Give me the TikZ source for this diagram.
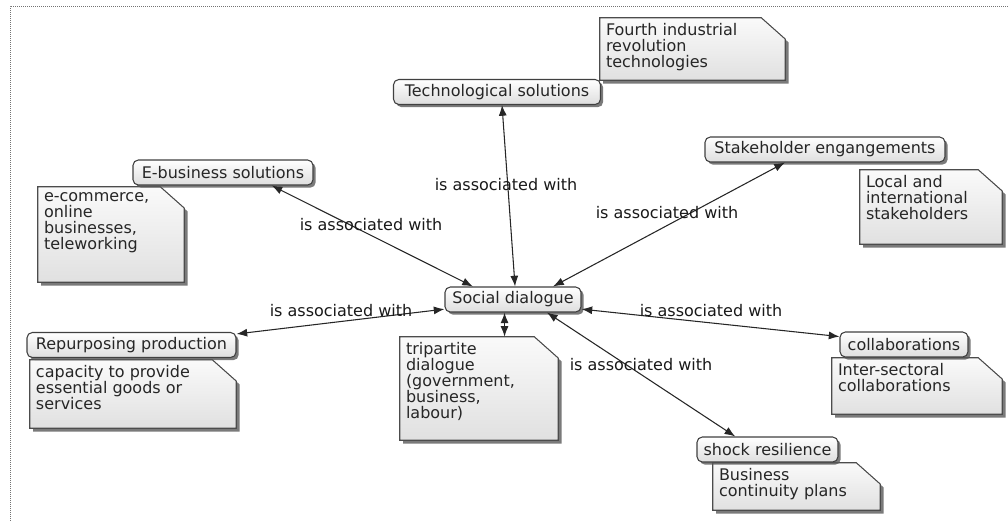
\documentclass[tikz,border=0pt]{standalone}
\usepackage{fontspec}
\setmainfont{DejaVu Sans}
\usetikzlibrary{arrows.meta}
\usetikzlibrary{shadows}
\usetikzlibrary{backgrounds}

% note text: width, height, lines
\newcommand{\notebox}[3]{\parbox[c][#2][t]{#1}{\raggedright #3}}

\begin{document}
\begin{tikzpicture}[x=0.75pt,y=-0.75pt,
  every node/.style={font=\fontsize{12}{12}\selectfont},
  concept/.style={draw=black!75,line width=0.8pt,rounded corners=4pt,
    top color=white,bottom color=black!13,text=black!85,
    inner xsep=2pt,inner ysep=1pt,minimum height=18.75pt,
    drop shadow={shadow xshift=2pt,shadow yshift=-2pt,fill=black!65,opacity=0.8}},
  note/.style={rectangle,text=black!85,inner xsep=4.5pt,inner ysep=4pt},
  notebody/.style={draw=black!70,line width=0.8pt,top color=black!2,bottom color=black!12,
    drop shadow={shadow xshift=2.5pt,shadow yshift=-2.5pt,fill=black!65,opacity=0.8}},
  link/.style={{Latex[length=8pt,width=6pt]}-{Latex[length=8pt,width=6pt]},
    draw=black!85,line width=0.8pt},
  linklabel/.style={text=black!90,inner sep=1pt}]
  \useasboundingbox (0,0) rectangle (1008,521);
  \draw[black!55,line width=0.75pt,dash pattern=on 0.75pt off 0.75pt]
    (10,521) -- (10,6) -- (1008,6);

  % notes
  \node (fourthnote) [note] at (692.5,49)
    {\notebox{129.75pt}{38.5pt}{Fourth industrial\\revolution\\technologies}};
  \node (ebiznote) [note] at (111,234.5)
    {\notebox{100.5pt}{63.25pt}{e-commerce,\\online\\businesses,\\teleworking}};
  \node (stakenote) [note] at (931,207)
    {\notebox{97.5pt}{47.5pt}{Local and\\international\\stakeholders}};
  \node (tripnote) [note] at (479,388.5)
    {\notebox{109.5pt}{69.25pt}{tripartite\\dialogue\\(government,\\business,\\labour)}};
  \node (repurnote) [note] at (133,394)
    {\notebox{145.5pt}{43pt}{capacity to provide\\essential goods or\\services}};
  \node (collabnote) [note] at (917,386)
    {\notebox{118.5pt}{34pt}{Inter-sectoral\\collaborations}};
  \node (shocknote) [note] at (796.5,486.5)
    {\notebox{116.25pt}{27.25pt}{Business\\continuity plans}};
  \begin{pgfonlayer}{background}
    \foreach \n in {fourthnote,ebiznote,stakenote,tripnote,repurnote,collabnote,shocknote}
      \path[notebody] (\n.south west) -- (\n.north west)
        -- ([xshift=-18pt]\n.north east) -- ([yshift=-16pt]\n.north east)
        -- (\n.south east) -- cycle;
  \end{pgfonlayer}

  % concepts
  \node (tech) [concept,minimum width=155.25pt] at (497,92) {Technological solutions};
  \node (ebiz) [concept,minimum width=135pt] at (223,172.5) {E-business solutions};
  \node (stake) [concept,minimum width=180pt] at (825,149.5) {Stakeholder engangements};
  \node (social) [concept,minimum width=102pt] at (513,299.5) {Social dialogue};
  \node (repur) [concept,minimum width=156.75pt] at (131.5,345) {Repurposing production};
  \node (collab) [concept,minimum width=96pt] at (904,344.5) {collaborations};
  \node (shock) [concept,minimum width=105.75pt] at (767.5,449.5) {shock resilience};

  % links
  \draw[link] (tech.-69) -- (social.81);
  \draw[link] (ebiz.-15.5) -- (social.162);
  \draw[link] (stake.198) -- (social.18.7);
  \draw[link] (repur.6) -- (social.188.8);
  \draw[link] (collab.173) -- (social.-8);
  \draw[link] (shock.158) -- (social.-21);
  \draw[link] (social.-123) -- (social.-123 |- tripnote.north);

  \node (techlab) [linklabel] at (506,185) {is associated with};
  \node (ebizlab) [linklabel] at (371,225) {is associated with};
  \node (stakelab) [linklabel] at (667,213) {is associated with};
  \node (repurlab) [linklabel] at (341,311) {is associated with};
  \node (collablab) [linklabel] at (711,311) {is associated with};
  \node (shocklab) [linklabel] at (641,365) {is associated with};
\end{tikzpicture}
\end{document}
